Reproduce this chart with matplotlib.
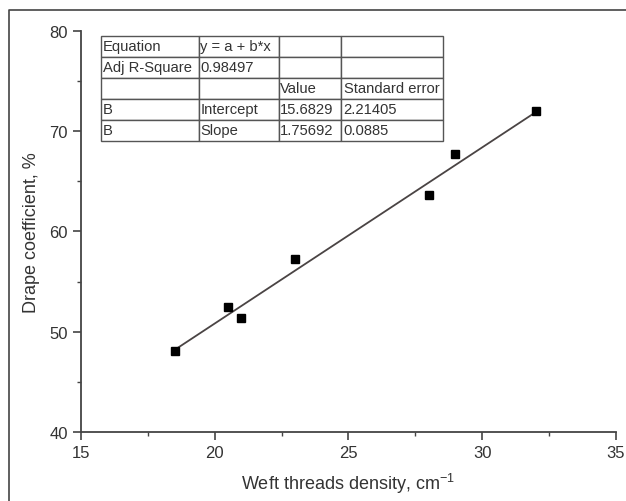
import numpy as np
import matplotlib
matplotlib.use('Agg')
import matplotlib.pyplot as plt
from matplotlib.lines import Line2D
from matplotlib.ticker import MultipleLocator

plt.rcParams['font.family'] = ['Liberation Sans', 'DejaVu Sans']
plt.rcParams['mathtext.fontset'] = 'custom'
plt.rcParams['mathtext.rm'] = 'Liberation Sans'
plt.rcParams['mathtext.it'] = 'Liberation Sans'

# measured points
weft_density = [18.5, 20.5, 21.0, 23.0, 28.0, 29.0, 32.0]
drape_coeff = [48.1, 52.5, 51.4, 57.3, 63.6, 67.7, 72.0]

# linear fit results
intercept = 15.6829
intercept_err = 2.21405
slope = 1.75692
slope_err = 0.0885
adj_r2 = 0.98497

table_rows = [
    ['Equation', 'y = a + b*x', '', ''],
    ['Adj R-Square', '%.5f' % adj_r2, '', ''],
    ['', '', 'Value', 'Standard error'],
    ['B', 'Intercept', '%.4f' % intercept, '%.5f' % intercept_err],
    ['B', 'Slope', '%.5f' % slope, '%.4f' % slope_err],
]

txt = '#333333'
fig = plt.figure(figsize=(6.26, 5.02), dpi=100)
ax = fig.add_axes([0.1294, 0.1375, 0.8546, 0.7988])

xfit = np.array([min(weft_density), max(weft_density)])
ax.plot(xfit, intercept + slope * xfit, color='#4a4444', lw=1.3, zorder=2)
ax.plot(weft_density, drape_coeff, 's', color='black', ms=6, zorder=3)

ax.set_xlim(15, 35)
ax.set_ylim(40, 80)
ax.xaxis.set_major_locator(MultipleLocator(5))
ax.xaxis.set_minor_locator(MultipleLocator(2.5))
ax.yaxis.set_major_locator(MultipleLocator(10))
ax.yaxis.set_minor_locator(MultipleLocator(5))
for s in ['top', 'right']:
    ax.spines[s].set_visible(False)
for s in ['left', 'bottom']:
    ax.spines[s].set_color('#444444')
    ax.spines[s].set_linewidth(1.3)
ax.tick_params(which='major', direction='out', length=6, width=1.2,
               colors='#444444', labelcolor=txt, labelsize=12)
ax.tick_params(which='minor', direction='out', length=3, width=1.0, colors='#444444')

ax.set_xlabel('Weft threads density, cm$^{-1}$', fontsize=13, color=txt, labelpad=8)
ax.set_ylabel('Drape coefficient, %', fontsize=13, color=txt, labelpad=7)

tbl = ax.table(cellText=table_rows, cellLoc='left',
               colWidths=[98, 80, 63, 102],
               bbox=[0.0372, 0.7257, 0.6400, 0.2618])
tbl.auto_set_font_size(False)
tbl.set_fontsize(10.6)
for (r, c), cell in tbl.get_celld().items():
    cell.set_edgecolor('#555555')
    cell.set_linewidth(1.0)
    cell.set_facecolor('white')
    cell.get_text().set_color(txt)
    cell.PAD = 0.02

# outer frame around the figure
fig.add_artist(Line2D([0.0144, 0.0144, 1.0], [0.0, 0.978, 0.978],
                      transform=fig.transFigure, color='#444444', lw=1.2))

fig.savefig('out.png', dpi=100)
